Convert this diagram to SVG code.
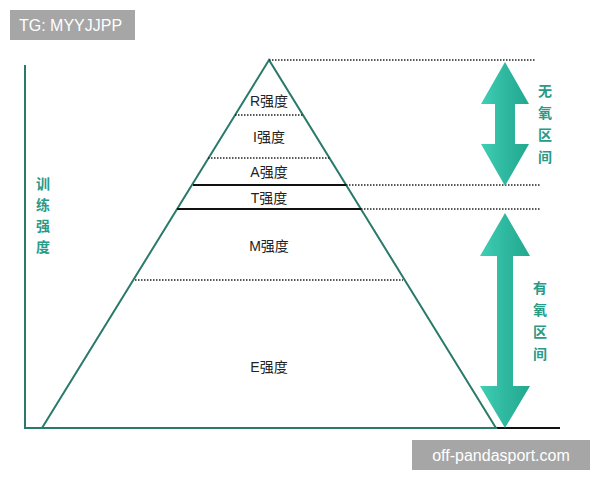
<svg xmlns="http://www.w3.org/2000/svg" width="600" height="480" viewBox="0 0 600 480">
<style>
.lbl{font-family:"Liberation Sans","Noto Sans CJK SC",sans-serif;font-size:14px;fill:#222;text-anchor:middle}
.cn{font-family:"Noto Sans CJK SC",sans-serif;font-size:14px;fill:#2a9a88;text-anchor:middle;font-weight:bold}
.dot{stroke:#222;stroke-width:1.5;stroke-dasharray:1.5 1.5;fill:none}
.sol{stroke:#111;stroke-width:2;fill:none}
.wm{font-family:"Liberation Sans",sans-serif;font-size:16px;fill:#fff}
</style>
<defs>
<linearGradient id="g" x1="0" x2="1" y1="0" y2="0">
<stop offset="0" stop-color="#3fcfb4"/><stop offset="0.5" stop-color="#2fb8a0"/><stop offset="1" stop-color="#22a88f"/>
</linearGradient>
</defs>
<rect width="600" height="480" fill="#fff"/>
<g id="connectors">
<line x1="25" y1="65" x2="25" y2="429" stroke="#2a7a6a" stroke-width="2"/>
<line x1="25" y1="428" x2="496" y2="428" stroke="#2a7a6a" stroke-width="2"/>
<line x1="496" y1="428" x2="560" y2="428" stroke="#111" stroke-width="2"/>
<polygon points="269,60 42,428 496,428" fill="none" stroke="#2a7a6a" stroke-width="2"/>
<line class="dot" x1="269" y1="60" x2="536" y2="60"/>
<line class="dot" x1="235" y1="115" x2="303" y2="115"/>
<line class="dot" x1="208" y1="158" x2="330" y2="158"/>
<line class="sol" x1="193" y1="185" x2="346" y2="185"/>
<line class="dot" x1="346" y1="185" x2="541" y2="185"/>
<line class="sol" x1="177" y1="209" x2="361" y2="209"/>
<line class="dot" x1="361" y1="209" x2="541" y2="209"/>
<line class="dot" x1="135" y1="280" x2="403" y2="280"/>
</g>
<g id="arrow-anaerobic">
<polygon points="505,62 529,104 515,104 515,144 529,144 505,186 481,144 495,144 495,104 481,104" fill="url(#g)"/>
</g>
<g id="arrow-aerobic">
<polygon points="505,213 530,256 513,256 513,386 530,386 505,428 480,386 497,386 497,256 480,256" fill="url(#g)"/>
</g>
<g id="n-R"><text class="lbl" x="269" y="106">R强度</text></g>
<g id="n-I"><text class="lbl" x="269" y="142">I强度</text></g>
<g id="n-A"><text class="lbl" x="269" y="177">A强度</text></g>
<g id="n-T"><text class="lbl" x="269" y="203">T强度</text></g>
<g id="n-M"><text class="lbl" x="269" y="251">M强度</text></g>
<g id="n-E"><text class="lbl" x="269" y="372">E强度</text></g>
<g id="axis-label" class="cn">
<text class="cn" x="43" y="189">训</text><text class="cn" x="43" y="210">练</text><text class="cn" x="43" y="231">强</text><text class="cn" x="43" y="252">度</text>
</g>
<g id="anaerobic-label">
<text class="cn" x="545" y="96">无</text><text class="cn" x="545" y="118">氧</text><text class="cn" x="545" y="140">区</text><text class="cn" x="545" y="162">间</text>
</g>
<g id="aerobic-label">
<text class="cn" x="540" y="293">有</text><text class="cn" x="540" y="315">氧</text><text class="cn" x="540" y="337">区</text><text class="cn" x="540" y="359">间</text>
</g>
<g id="wm1"><rect x="10" y="10" width="125" height="30" fill="#a6a6a6"/><text class="wm" x="19" y="31">TG: MYYJJPP</text></g>
<g id="wm2"><rect x="412" y="440" width="178" height="30" fill="#a6a6a6"/><text class="wm" x="501" y="461" text-anchor="middle">off-pandasport.com</text></g>
</svg>
